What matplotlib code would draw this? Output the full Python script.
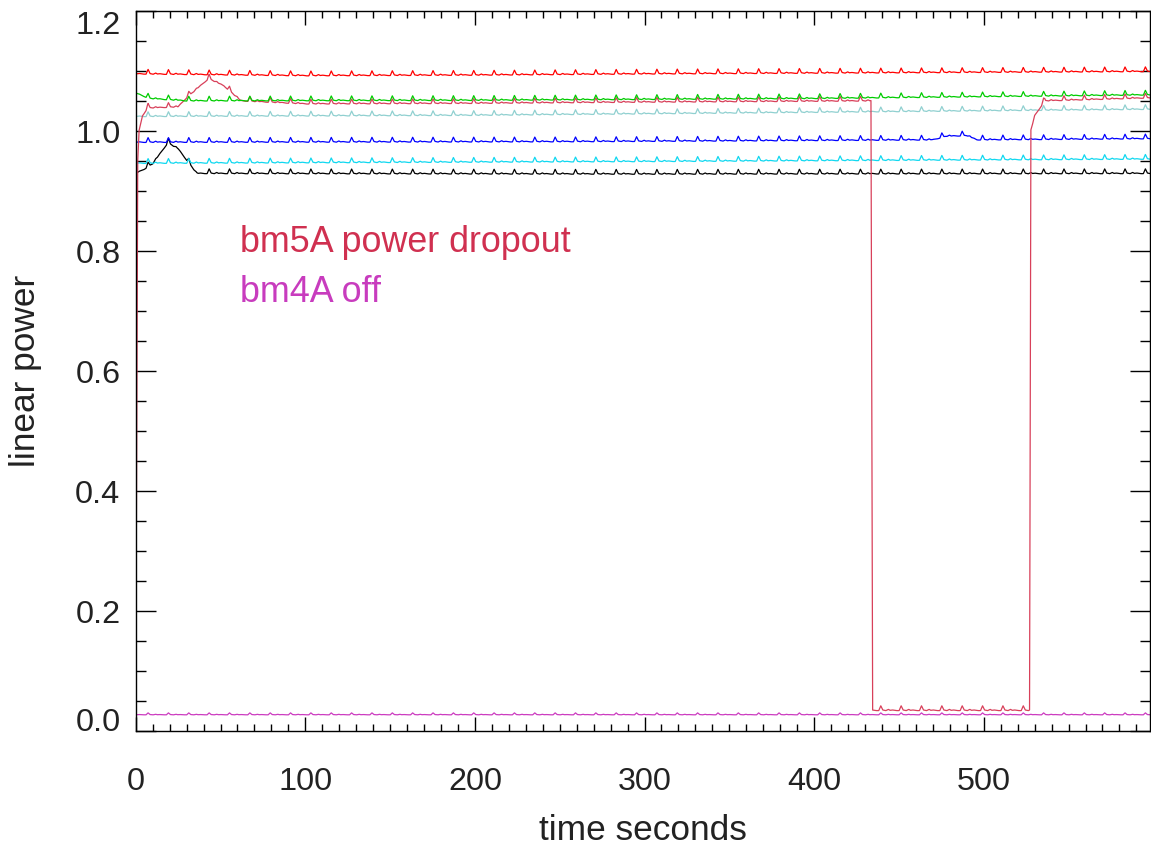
import numpy as np
import matplotlib
matplotlib.use('Agg')
import matplotlib.pyplot as plt

plt.rcParams['font.family'] = ['Liberation Sans', 'DejaVu Sans']

# time span of the record (seconds)
t_end = 598.0

# the periodic ripple seen on every trace: one period
period = 12.0
first_peak = 7.3
ripple_phase = [0.0, 1.2, 3.0, 4.5, 5.5, 7.0, 9.5, 10.8, 12.0]
ripple_amp = [0.008, 0.001, 0.0, 0.002, 0.0005, 0.001, 0.0, 0.0, 0.008]

# slow level of each trace: (time, linear power) knots
red_t = [0, 100, 200, 300, 450, 598]
red_v = [1.095, 1.092, 1.093, 1.095, 1.097, 1.099]
green_t = [0, 8, 30, 200, 400, 598]
green_v = [1.063, 1.054, 1.050, 1.051, 1.054, 1.060]
teal_t = [0, 200, 400, 598]
teal_v = [1.024, 1.026, 1.031, 1.036]
blue_t = [0, 250, 400, 470, 478, 490, 496, 598]
blue_v = [0.981, 0.982, 0.984, 0.985, 0.991, 0.992, 0.985, 0.987]
cyan_t = [0, 300, 598]
cyan_v = [0.946, 0.949, 0.953]
black_t = [0, 5, 10, 19, 25, 36, 300, 598]
black_v = [0.929, 0.936, 0.945, 0.980, 0.970, 0.929, 0.928, 0.929]
bm5a_t = [0, 1.2, 2, 4, 7, 25, 30, 43, 52, 62, 100, 200, 300, 433.5, 434.5,
          527, 527.8, 530, 536, 598]
bm5a_v = [0.035, 0.95, 1.0, 1.025, 1.038, 1.04, 1.055, 1.087, 1.075, 1.05,
          1.045, 1.046, 1.048, 1.05, 0.034, 0.034, 1.0, 1.025, 1.05, 1.055]
bm4a_t = [0, 598]
bm4a_v = [0.027, 0.027]

traces = [
    (bm4a_t, bm4a_v, 0.4, '#cc3cc0'),
    (black_t, black_v, 1.0, '#000000'),
    (cyan_t, cyan_v, 1.0, '#10d8f0'),
    (blue_t, blue_v, 1.0, '#0000ff'),
    (teal_t, teal_v, 1.0, '#90d0d0'),
    (bm5a_t, bm5a_v, 1.0, '#d8405a'),
    (green_t, green_v, 1.0, '#00cc00'),
    (red_t, red_v, 1.0, '#ff0000'),
]


def sample_times(knots):
    peaks = np.arange(first_peak - period, t_end + period, period)
    grid = (peaks[:, None] + np.array(ripple_phase[:-1])[None, :]).ravel()
    t = np.unique(np.concatenate([grid, knots, [0, t_end]]))
    return t[(t >= 0) & (t <= t_end)]


fig = plt.figure(figsize=(11.51, 8.5), dpi=100)
ax = fig.add_axes([0.1179, 0.14, 0.8812, 0.847])

for kt, kv, scale, col in traces:
    t = sample_times(kt)
    rip = np.interp((t - first_peak) % period, ripple_phase, ripple_amp)
    v = np.interp(t, kt, kv) + scale * rip
    ax.plot(t, v, color=col, lw=0.9)

ax.text(61.5, 0.798, 'bm5A power dropout', color='#d03050', fontsize=25.8,
        va='baseline', ha='left')
ax.text(61.5, 0.7155, 'bm4A off', color='#c83cbe', fontsize=25.8,
        va='baseline', ha='left')

ax.set_xlim(0, t_end)
ax.set_ylim(0, 1.2)
ax.set_xticks([0, 100, 200, 300, 400, 500])
ax.set_xticks(np.arange(0, t_end, 10), minor=True)
ax.set_yticks([0.0, 0.2, 0.4, 0.6, 0.8, 1.0, 1.2])
ax.set_yticks(np.arange(0, 1.2001, 0.05), minor=True)
ax.set_yticklabels(['0.0', '0.2', '0.4', '0.6', '0.8', '1.0', '1.2'])

ax.tick_params(axis='both', which='both', direction='in', top=True, right=True,
               labelsize=23.3, labelcolor='#222222', width=1.0)
ax.tick_params(axis='x', which='major', length=10.1, pad=26)
ax.tick_params(axis='x', which='minor', length=5.0)
ax.tick_params(axis='y', which='major', length=14.4, pad=11)
ax.tick_params(axis='y', which='minor', length=7.2)
for s in ax.spines.values():
    s.set_linewidth(1.0)

# end labels kept inside the axis range, as in the original
ylabs = ax.get_yticklabels()
ylabs[0].set_va('baseline')
ylabs[-1].set_va('top')

ax.set_xlabel('time seconds', fontsize=25.4, color='#222222', labelpad=12)
ax.set_ylabel('linear power', fontsize=25.4, color='#222222', labelpad=24)

fig.savefig('out.png', dpi=100)
